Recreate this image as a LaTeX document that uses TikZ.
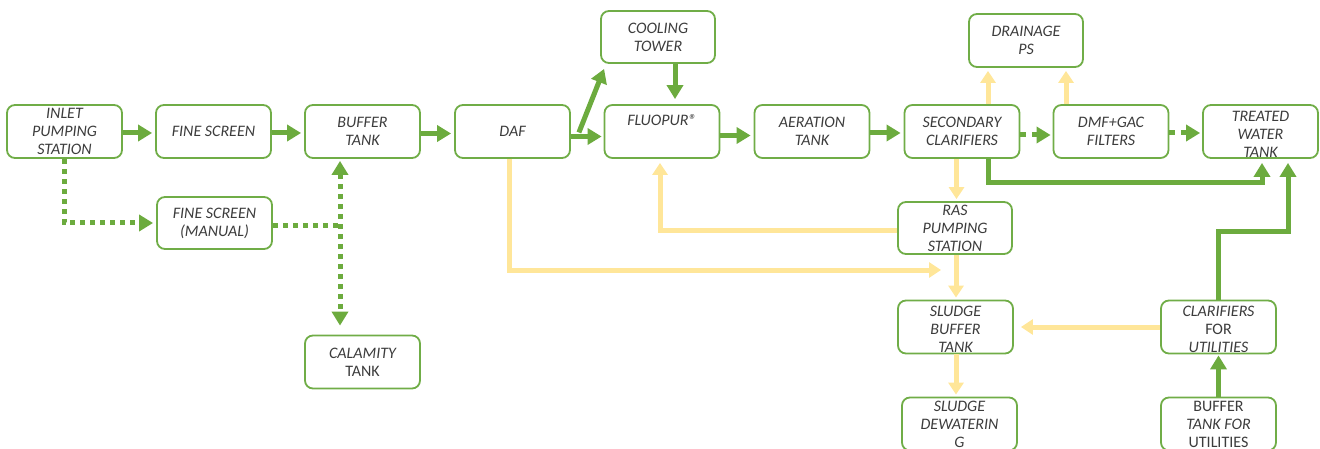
\documentclass[tikz,border=0pt]{standalone}
\usepackage{fontspec}
\setmainfont{Carlito}
\usetikzlibrary{arrows.meta,calc}
\definecolor{boxgreen}{HTML}{70AD47}
\definecolor{flowgreen}{HTML}{6CAB3E}
\definecolor{sludgecol}{HTML}{FFE699}
\definecolor{txtgray}{HTML}{3C3C3C}
\newcommand\lowtop{\raisebox{0pt}[15.5pt][0pt]{}}
\begin{document}
\begin{tikzpicture}[x=1pt,y=-1pt,
  pbox/.style={draw=boxgreen,line width=1.8pt,rounded corners=8pt,fill=white,
    minimum width=115pt,minimum height=53pt,inner sep=0pt,align=center,
    text=txtgray,font=\fontsize{16}{18}\selectfont\itshape},
  tipg/.style={-{Triangle[width=16pt,length=14pt]}},
  garrow/.style={draw=flowgreen,line width=5pt,tipg},
  gdash/.style={garrow,dash pattern=on 6pt off 6pt},
  gdot/.style={garrow,dash pattern=on 5pt off 5pt},
  gdotline/.style={draw=flowgreen,line width=5pt,dash pattern=on 5pt off 5pt},
  yarrow/.style={draw=sludgecol,line width=5pt,-{Triangle[width=15pt,length=12pt]}},
  yline/.style={draw=sludgecol,line width=5pt}
]
\useasboundingbox (0,0) rectangle (1320,449);

% boxes
\node[pbox] (inlet)     at (64.5,131.5)  {INLET\\PUMPING\\STATION};
\node[pbox] (fine)      at (213.5,131.5) {FINE SCREEN};
\node[pbox] (buffer)    at (362.5,131.5) {BUFFER\\TANK};
\node[pbox] (daf)       at (512.5,131.5) {DAF};
\node[pbox] (fluopur)   at (662,131.5)   {FLUOPUR®\\\strut};
\node[pbox] (aeration)  at (812,131.5)   {AERATION\\TANK};
\node[pbox] (secondary) at (962,131.5)   {SECONDARY\\CLARIFIERS};
\node[pbox] (dmf)       at (1111,131.5)  {DMF+GAC\\FILTERS};
\node[pbox] (treated)   at (1260.5,131.5) {\lowtop TREATED\\WATER\\TANK};
\node[pbox,minimum width=114pt,minimum height=52pt] (cooling) at (658,37) {COOLING\\TOWER};
\node[pbox,minimum width=114pt] (drainage) at (1026,40.5) {DRAINAGE\\PS};
\node[pbox,minimum height=52pt] (manual) at (214.5,223) {FINE SCREEN\\(MANUAL)};
\node[pbox] (calamity)  at (362.5,362)   {CALAMITY\\\upshape TANK};
\node[pbox,minimum width=114pt,minimum height=52pt] (ras) at (955,228) {RAS\\PUMPING\\STATION};
\node[pbox] (sludgebuf) at (955.5,327)   {\lowtop SLUDGE\\BUFFER\\TANK};
\node[pbox] (dewater)   at (959.5,424)   {SLUDGE\\DEWATERIN\\G};
\node[pbox] (clarutil)  at (1218.5,327)  {\lowtop CLARIFIERS\\\upshape FOR\\UTILITIES};
\node[pbox] (bufutil)   at (1218.5,424)  {\upshape BUFFER\\TANK \itshape FOR\\\upshape UTILITIES};

% main green line
\draw[garrow,shorten >=3pt] ([yshift=-1.5pt]inlet.east) -- ([yshift=-1.5pt]fine.west);
\draw[garrow,shorten >=3pt] ([yshift=-1.5pt]fine.east) -- ([yshift=-1.5pt]buffer.west);
\draw[garrow,shorten >=3pt] ([yshift=-2pt]buffer.east) -- ([yshift=-2pt]daf.west);
\draw[garrow,shorten >=2pt] ([yshift=-5pt]daf.east) -- ([yshift=-5pt]fluopur.west);
\draw[garrow] ($(daf.east)+(8,1)$) -- ($(cooling.south west)+(4,5)$);
\draw[garrow,shorten >=5pt] ([xshift=17pt]cooling.south) -- ([xshift=17pt]cooling.south |- fluopur.north);
\draw[garrow,shorten >=3pt] ([yshift=-4pt]fluopur.east) -- ([yshift=-4pt]aeration.west);
\draw[garrow,shorten >=3pt] ([yshift=-1.5pt]aeration.east) -- ([yshift=-1.5pt]secondary.west);
\draw[gdash,shorten >=2pt] ([yshift=-3.5pt]secondary.east) -- ([yshift=-3.5pt]dmf.west);
\draw[gdash,shorten >=2pt] ([yshift=-1.5pt]dmf.east) -- ([yshift=-1.5pt]treated.west);
\draw[garrow,shorten >=4pt] ([xshift=26pt]secondary.south) -- ++(0,24) -| ([xshift=1.5pt]treated.south);
\draw[garrow,shorten >=4pt] (clarutil.north) -- ++(0,-68) -| ([xshift=27.5pt]treated.south);
\draw[garrow,shorten >=1pt] (bufutil.north) -- (clarutil.south);

% sludge / yellow lines
\draw[yarrow,shorten >=3pt] ([xshift=26pt]secondary.north) -- ([xshift=26pt]secondary.north |- drainage.south);
\draw[yarrow,shorten >=3pt] ([xshift=-45pt]dmf.north) -- ([xshift=-45pt]dmf.north |- drainage.south);
\draw[yarrow,shorten >=2pt] ([xshift=-5.5pt]secondary.south) -- ([xshift=-5.5pt]secondary.south |- ras.north);
\draw[yarrow,shorten >=2pt] ([xshift=1pt]ras.south) -- ([xshift=1pt]ras.south |- sludgebuf.north);
\draw[yarrow,shorten >=2pt] ([xshift=0.5pt]sludgebuf.south) -- ([xshift=0.5pt]sludgebuf.south |- dewater.north);
\draw[yarrow,shorten >=4pt] ([yshift=-3pt]ras.west) -| ([xshift=-2pt]fluopur.south);
\coordinate (dafjoin) at (941,270);
\draw[yarrow] ([xshift=-3.5pt]daf.south) |- (dafjoin);
\draw[yarrow,shorten >=7pt] (clarutil.west) -- (sludgebuf.east);

% manual bypass (dotted)
\draw[gdot,shorten >=3pt] (inlet.south) |- (manual.west);
\coordinate (vjoin) at (340,226);
\draw[gdotline] ([yshift=-3pt]manual.east) -- (vjoin);
\draw[gdotline,{Triangle[width=16pt,length=14pt]}-{Triangle[width=16pt,length=14pt]},shorten <=2pt,shorten >=9pt]
  ([xshift=-22.5pt]buffer.south) -- ([xshift=-22.5pt]buffer.south |- calamity.north);
\end{tikzpicture}
\end{document}
